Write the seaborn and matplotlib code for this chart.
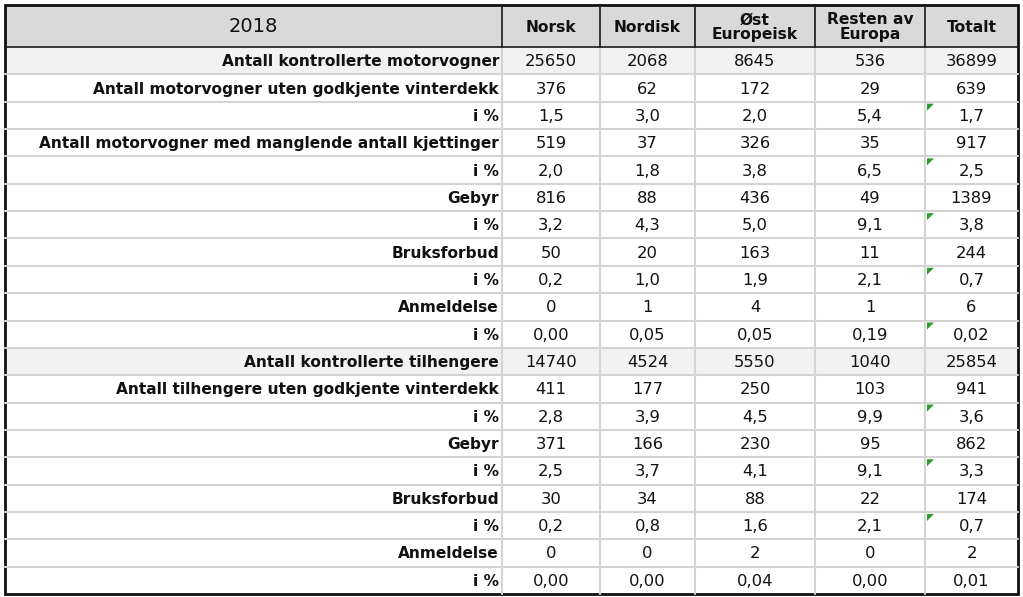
import numpy as np
import matplotlib.pyplot as plt
import seaborn as sns
from matplotlib.patches import Rectangle, Polygon

# table content
year = "2018"
columns = ["Norsk", "Nordisk", "Øst\nEuropeisk", "Resten av\nEuropa", "Totalt"]
row_labels = [
    "Antall kontrollerte motorvogner",
    "Antall motorvogner uten godkjente vinterdekk",
    "i %",
    "Antall motorvogner med manglende antall kjettinger",
    "i %",
    "Gebyr",
    "i %",
    "Bruksforbud",
    "i %",
    "Anmeldelse",
    "i %",
    "Antall kontrollerte tilhengere",
    "Antall tilhengere uten godkjente vinterdekk",
    "i %",
    "Gebyr",
    "i %",
    "Bruksforbud",
    "i %",
    "Anmeldelse",
    "i %",
]
norsk = ["25650", "376", "1,5", "519", "2,0", "816", "3,2", "50", "0,2", "0", "0,00",
         "14740", "411", "2,8", "371", "2,5", "30", "0,2", "0", "0,00"]
nordisk = ["2068", "62", "3,0", "37", "1,8", "88", "4,3", "20", "1,0", "1", "0,05",
           "4524", "177", "3,9", "166", "3,7", "34", "0,8", "0", "0,00"]
ost = ["8645", "172", "2,0", "326", "3,8", "436", "5,0", "163", "1,9", "4", "0,05",
       "5550", "250", "4,5", "230", "4,1", "88", "1,6", "2", "0,04"]
resten = ["536", "29", "5,4", "35", "6,5", "49", "9,1", "11", "2,1", "1", "0,19",
          "1040", "103", "9,9", "95", "9,1", "22", "2,1", "0", "0,00"]
totalt = ["36899", "639", "1,7", "917", "2,5", "1389", "3,8", "244", "0,7", "6", "0,02",
          "25854", "941", "3,6", "862", "3,3", "174", "0,7", "2", "0,01"]
shaded_rows = [0, 11]
flagged_rows = [2, 4, 6, 8, 10, 13, 15, 17]   # green marker in Totalt cell

# layout (pixels)
col_edges = [5, 502, 600, 695, 815, 925, 1018]
top, header_bottom, bottom = 5, 47, 594

sns.set_theme(style="white")
plt.rcParams["font.family"] = ["DejaVu Sans"]

fig = plt.figure(figsize=(10.23, 5.97), dpi=100)
ax = fig.add_axes([0, 0, 1, 1])
ax.set_xlim(0, 1023)
ax.set_ylim(597, 0)
ax.axis("off")

data = [norsk, nordisk, ost, resten, totalt]
n_rows = len(row_labels)
row_edges = np.linspace(header_bottom, bottom, n_rows + 1)

# header background
ax.add_patch(Rectangle((col_edges[0], top), col_edges[-1] - col_edges[0],
                       header_bottom - top, facecolor="#d9d9d9", edgecolor="none"))
# shaded rows
for r in shaded_rows:
    ax.add_patch(Rectangle((col_edges[0], row_edges[r]), col_edges[-1] - col_edges[0],
                           row_edges[r + 1] - row_edges[r], facecolor="#f2f2f2",
                           edgecolor="none"))

# grid lines in body
grid_c = "#d4d4d4"
for y in row_edges[1:-1]:
    ax.plot([col_edges[0], col_edges[-1]], [y, y], color=grid_c, lw=1.5)
for x in col_edges[1:-1]:
    ax.plot([x, x], [header_bottom, bottom], color=grid_c, lw=1.5)
# header separators
for x in col_edges[1:-1]:
    ax.plot([x, x], [top, header_bottom], color="#1a1a1a", lw=1.2)
ax.plot([col_edges[0], col_edges[-1]], [header_bottom, header_bottom], color="#1a1a1a", lw=1.2)
# outer border
ax.add_patch(Rectangle((col_edges[0], top), col_edges[-1] - col_edges[0], bottom - top,
                       facecolor="none", edgecolor="#111111", lw=2))

# header text
ax.text((col_edges[0] + col_edges[1]) / 2, (top + header_bottom) / 2 + 1, year,
        ha="center", va="center", fontsize=14, color="#111111")
for j, c in enumerate(columns):
    ax.text((col_edges[j + 1] + col_edges[j + 2]) / 2, (top + header_bottom) / 2 + 1, c,
            ha="center", va="center", fontsize=11.2, fontweight="bold", color="#111111",
            linespacing=0.92)

# body text
for i, lab in enumerate(row_labels):
    yc = (row_edges[i] + row_edges[i + 1]) / 2 + 1
    ax.text(col_edges[1] - 3, yc, lab, ha="right", va="center", fontsize=11.1,
            fontweight="bold", color="#111111")
    for j, col in enumerate(data):
        ax.text((col_edges[j + 1] + col_edges[j + 2]) / 2, yc, col[i], ha="center",
                va="center", fontsize=11.8, color="#111111")

# green markers
for r in flagged_rows:
    x0, y0 = col_edges[5] + 2, row_edges[r] + 2
    ax.add_patch(Polygon([[x0, y0], [x0 + 7, y0], [x0, y0 + 7]], closed=True,
                         facecolor="#2e9a2e", edgecolor="none"))

fig.savefig("out.png", dpi=100)
